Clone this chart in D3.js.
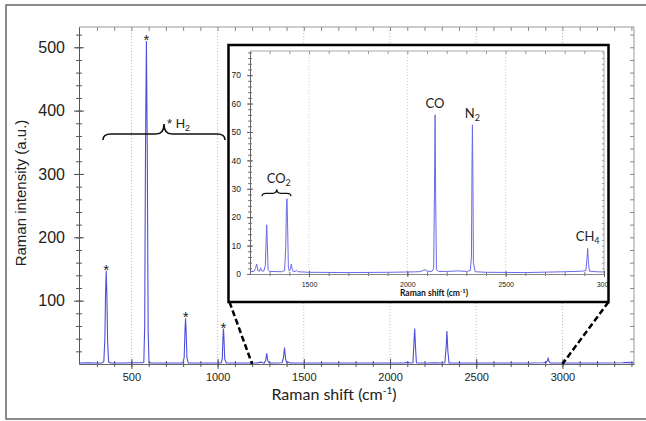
<!DOCTYPE html>
<html>
<meta charset="utf-8">
<head>
  <title>Raman spectrum</title>
  <style>
    body { margin: 0; background: #fff; }
    svg { display: block; }
    .tick text { font-family: "Liberation Sans", Arial, sans-serif; fill: #222; }
    .lato { font-family: Lato, "Open Sans", sans-serif; }
  </style>
</head>
<body>
<script src="https://cdn.jsdelivr.net/npm/d3@7"></script>
<script>

// main spectrum (shift in cm-1, intensity a.u.)
var mainShift = [196, 250, 300, 330, 340, 346, 350, 354, 358, 362, 368, 380, 450, 520, 565, 572, 577, 582, 587, 592, 597, 602, 612,
  700, 780, 798, 806, 811, 814, 817, 822, 830, 900, 1000, 1020, 1027, 1031, 1034, 1037, 1041, 1050, 1150, 1230, 1250, 1262,
  1270, 1279, 1285, 1291, 1300, 1340, 1374, 1382, 1388, 1394, 1402, 1410, 1420, 1500, 1800, 2080, 2100, 2120, 2133, 2138,
  2143, 2148, 2153, 2170, 2220, 2260, 2300, 2318, 2325, 2330, 2335, 2342, 2400, 2600, 2800, 2890, 2905, 2912, 2917, 2922,
  2930, 3000, 3200, 3350, 3385, 3415];
var mainIntensity = [1.5, 2, 1.5, 1.5, 4, 40, 110, 147, 105, 35, 3, 1.5, 1.5, 2, 2, 3, 60, 350, 510, 340, 55, 3, 1.5,
  1.5, 1.5, 1.5, 10, 55, 72, 55, 10, 1.5, 1.5, 1.5, 1.5, 8, 42, 56, 40, 8, 1.5, 1.5, 1.5, 3, 2,
  1.5, 6, 17, 5, 1.5, 1.5, 2, 10, 26, 8, 2, 3, 1.5, 1.5, 1.5, 1.5, 2.5, 1.5, 2, 30,
  56, 25, 2, 1.5, 1.5, 2, 1.5, 2, 25, 52, 22, 1.5, 1.5, 1.5, 1.5, 2, 2.5, 5, 9, 4,
  1.5, 1.5, 1.5, 2, 2.5, 1.5];

// inset spectrum, 1200 - 3000 cm-1
var insetShift = [1200, 1220, 1228, 1234, 1240, 1248, 1254, 1258, 1270, 1278, 1282, 1285, 1288, 1292, 1300, 1360, 1376, 1382,
  1385, 1388, 1391, 1395, 1400, 1406, 1410, 1415, 1420, 1430, 1436, 1442, 1500, 1700, 1900, 2000, 2060, 2080, 2090, 2100,
  2125, 2134, 2138, 2141, 2144, 2148, 2160, 2200, 2260, 2300, 2320, 2326, 2329, 2331, 2333, 2336, 2345, 2400, 2600, 2800,
  2890, 2908, 2913, 2917, 2921, 2926, 2960, 3000];
var insetIntensity = [0.8, 0.9, 2, 3.5, 1.2, 1, 2.2, 1.2, 1, 3, 12, 17.3, 11, 1.5, 0.9, 0.8, 1.2, 10,
  23, 26.5, 18, 2.5, 1, 2, 3.5, 1.5, 0.8, 0.9, 1.3, 0.8, 0.6, 0.5, 0.6, 0.7, 0.8, 1.2, 1.6, 1.0,
  0.9, 2, 30, 56, 28, 1.5, 0.9, 0.9, 1.1, 0.9, 1.2, 6, 40, 52.5, 38, 4, 0.8, 0.6, 0.5, 0.8,
  1.0, 1.2, 5, 9, 4, 1, 0.8, 0.7];

var mainXTicks = [500, 1000, 1500, 2000, 2500, 3000];
var mainYTicks = [100, 200, 300, 400, 500];
var insetXTicks = [1500, 2000, 2500, 3000];
var insetYTicks = [0, 10, 20, 30, 40, 50, 60, 70];

// H2 lines marked with a star
var h2Shift = [354, 587, 814, 1034];
var h2Height = [147, 510, 72, 56];

// inset peak labels
var peakName = ["CO", "N", "CH"];
var peakSub = ["", "2", "4"];
var peakShift = [2141, 2331, 2917];
var peakHeight = [56, 52.5, 9];

var width = 646, height = 421;
var mainBox = {left: 79, right: 634, top: 27, bottom: 364};
var insetFrame = {left: 228.5, right: 608.5, top: 45, bottom: 302};
var insetBox = {left: 250, right: 604, top: 51, bottom: 274};

var blue = "#4f4fdc";
var fmt = d3.format("d");

var svg = d3.select("body").append("svg")
    .attr("width", width)
    .attr("height", height);

svg.append("rect")
    .attr("x", 6).attr("y", 5)
    .attr("width", 660).attr("height", 414)
    .attr("fill", "#fff")
    .attr("stroke", "#666")
    .attr("stroke-width", 1.5);

var x = d3.scaleLinear().domain([196, 3415]).range([mainBox.left, mainBox.right]);
var y = d3.scaleLinear().domain([0, 532]).range([mainBox.bottom, mainBox.top]);

// dotted grid
svg.append("g").selectAll("line")
    .data(mainXTicks)
    .enter().append("line")
    .attr("x1", function(d) { return x(d); })
    .attr("x2", function(d) { return x(d); })
    .attr("y1", mainBox.top)
    .attr("y2", mainBox.bottom)
    .attr("stroke", "#aaa")
    .attr("stroke-width", 0.8)
    .attr("stroke-dasharray", "1,2");

// helper: crossing ticks
function crossTicks(g, dir, size) {
  g.selectAll(".tick line").each(function() {
    var l = d3.select(this);
    if (dir == "v") l.attr("y1", -size).attr("y2", size);
    else l.attr("x1", size).attr("x2", -size);
  });
}

function range(a, b, step) {
  return d3.range(a, b + step / 2, step);
}

// main frame lines
svg.append("line").attr("x1", mainBox.left).attr("x2", mainBox.right)
    .attr("y1", mainBox.top).attr("y2", mainBox.top).attr("stroke", "#999");
svg.append("line").attr("x1", mainBox.right).attr("x2", mainBox.right)
    .attr("y1", mainBox.top).attr("y2", mainBox.bottom).attr("stroke", "#999");

// top and right inward ticks
svg.append("g")
    .attr("transform", "translate(0," + mainBox.top + ")")
    .call(d3.axisTop(x).tickValues(range(300, 3400, 100)).tickSize(-4).tickFormat(""))
    .call(function(g) { g.select(".domain").remove(); g.selectAll("line").attr("stroke", "#888"); });
svg.append("g")
    .attr("transform", "translate(" + mainBox.right + ",0)")
    .call(d3.axisRight(y).tickValues(range(20, 520, 20)).tickSize(-4).tickFormat(""))
    .call(function(g) { g.select(".domain").remove(); g.selectAll("line").attr("stroke", "#888"); });

// left axis
svg.append("g")
    .attr("transform", "translate(" + mainBox.left + ",0)")
    .call(d3.axisLeft(y).tickValues(range(20, 520, 20)).tickSize(3).tickSizeOuter(0).tickFormat(""))
    .call(function(g) { crossTicks(g, "h", 3); g.select(".domain").remove(); g.selectAll("line").attr("stroke", "#555"); });
svg.append("g")
    .attr("transform", "translate(" + mainBox.left + ",0)")
    .call(d3.axisLeft(y).tickValues(mainYTicks).tickSize(5).tickSizeOuter(0).tickPadding(9).tickFormat(fmt))
    .call(function(g) {
      crossTicks(g, "h", 5);
      g.select(".domain").attr("stroke", "#555");
      g.selectAll("line").attr("stroke", "#555");
      g.selectAll("text").style("font-size", "16px");
    });

// bottom axis
svg.append("g")
    .attr("transform", "translate(0," + mainBox.bottom + ")")
    .call(d3.axisBottom(x).tickValues(range(300, 3400, 100)).tickSize(3).tickSizeOuter(0).tickFormat(""))
    .call(function(g) { crossTicks(g, "v", 3); g.select(".domain").remove(); g.selectAll("line").attr("stroke", "#555"); });
svg.append("g")
    .attr("transform", "translate(0," + mainBox.bottom + ")")
    .call(d3.axisBottom(x).tickValues(mainXTicks).tickSize(5).tickSizeOuter(0).tickPadding(4).tickFormat(fmt))
    .call(function(g) {
      crossTicks(g, "v", 5);
      g.select(".domain").attr("stroke", "#666");
      g.selectAll("line").attr("stroke", "#555");
      g.selectAll("text").style("font-size", "11px");
    });

// main spectrum
var mainLine = d3.line()
    .x(function(d) { return x(d[0]); })
    .y(function(d) { return y(d[1]); });

svg.append("path")
    .datum(d3.zip(mainShift, mainIntensity))
    .attr("d", mainLine)
    .attr("fill", "none")
    .attr("stroke", blue)
    .attr("stroke-width", 1.1);

// stars over H2 lines
svg.append("g").selectAll("text")
    .data(d3.zip(h2Shift, h2Height))
    .enter().append("text")
    .attr("x", function(d) { return x(d[0]); })
    .attr("y", function(d) { return y(d[1]) + 4; })
    .attr("text-anchor", "middle")
    .style("font-family", "Liberation Sans, Arial, sans-serif")
    .style("font-size", "15px")
    .style("fill", "#222")
    .text("*");

// curly brace, opening downwards
function brace(x1, x2, xm, yy, endDrop, cusp, r) {
  return "M" + x1 + "," + (yy + endDrop) +
    " Q" + x1 + "," + yy + " " + (x1 + r) + "," + yy +
    " L" + (xm - r) + "," + yy +
    " Q" + xm + "," + yy + " " + xm + "," + (yy - cusp) +
    " Q" + xm + "," + yy + " " + (xm + r) + "," + yy +
    " L" + (x2 - r) + "," + yy +
    " Q" + x2 + "," + yy + " " + x2 + "," + (yy + endDrop);
}

svg.append("path")
    .attr("d", brace(x(335), x(1043), x(689), y(363), 6, 10, 8))
    .attr("fill", "none")
    .attr("stroke", "#111")
    .attr("stroke-width", 1.6);

var h2 = svg.append("text")
    .attr("x", x(689) + 3)
    .attr("y", y(363) - 6)
    .style("font-family", "Liberation Sans, Arial, sans-serif")
    .style("font-size", "13px")
    .style("fill", "#222");
h2.append("tspan").text("* H");
h2.append("tspan").attr("dy", 3).style("font-size", "9px").text("2");

// axis titles
svg.append("text")
    .attr("transform", "translate(26," + 193 + ") rotate(-90)")
    .attr("text-anchor", "middle")
    .style("font-family", "Liberation Sans, Arial, sans-serif")
    .style("font-size", "15px")
    .style("fill", "#222")
    .text("Raman intensity (a.u.)");

var xt = svg.append("text")
    .attr("class", "lato")
    .attr("x", 334)
    .attr("y", 400)
    .attr("text-anchor", "middle")
    .style("font-size", "16px")
    .style("fill", "#222");
xt.append("tspan").text("Raman shift (cm");
xt.append("tspan").attr("dy", -6).style("font-size", "10px").text("-1");
xt.append("tspan").attr("dy", 6).text(")");

// ---------- inset ----------
var xi = d3.scaleLinear().domain([1200, 3000]).range([insetBox.left, insetBox.right]);
var yi = d3.scaleLinear().domain([0, 78.5]).range([insetBox.bottom, insetBox.top]);

svg.append("defs").append("clipPath").attr("id", "insetClip")
    .append("rect")
    .attr("x", insetFrame.left).attr("y", insetFrame.top)
    .attr("width", insetFrame.right - insetFrame.left)
    .attr("height", insetFrame.bottom - insetFrame.top);

svg.append("rect")
    .attr("x", insetFrame.left).attr("y", insetFrame.top)
    .attr("width", insetFrame.right - insetFrame.left)
    .attr("height", insetFrame.bottom - insetFrame.top)
    .attr("fill", "#fff");

var inset = svg.append("g").attr("clip-path", "url(#insetClip)");

inset.append("g").selectAll("line")
    .data([1500, 2000, 2500])
    .enter().append("line")
    .attr("x1", function(d) { return xi(d); })
    .attr("x2", function(d) { return xi(d); })
    .attr("y1", insetBox.top)
    .attr("y2", insetBox.bottom)
    .attr("stroke", "#bbb")
    .attr("stroke-width", 0.8)
    .attr("stroke-dasharray", "1,2");

inset.append("line").attr("x1", insetBox.left).attr("x2", insetBox.right)
    .attr("y1", insetBox.top).attr("y2", insetBox.top).attr("stroke", "#aaa");
inset.append("line").attr("x1", insetBox.right).attr("x2", insetBox.right)
    .attr("y1", insetBox.top).attr("y2", insetBox.bottom).attr("stroke", "#aaa");

inset.append("g")
    .attr("transform", "translate(0," + insetBox.top + ")")
    .call(d3.axisTop(xi).tickValues(range(1300, 2900, 100)).tickSize(-3).tickFormat(""))
    .call(function(g) { g.select(".domain").remove(); g.selectAll("line").attr("stroke", "#999"); });
inset.append("g")
    .attr("transform", "translate(" + insetBox.right + ",0)")
    .call(d3.axisRight(yi).tickValues(range(2, 78, 2)).tickSize(-2).tickFormat(""))
    .call(function(g) { g.select(".domain").remove(); g.selectAll("line").attr("stroke", "#999"); });

inset.append("g")
    .attr("transform", "translate(" + insetBox.left + ",0)")
    .call(d3.axisLeft(yi).tickValues(range(2, 78, 2)).tickSize(2).tickFormat(""))
    .call(function(g) { crossTicks(g, "h", 2); g.select(".domain").remove(); g.selectAll("line").attr("stroke", "#777"); });
inset.append("g")
    .attr("transform", "translate(" + insetBox.left + ",0)")
    .call(d3.axisLeft(yi).tickValues(insetYTicks).tickSize(3).tickSizeOuter(0).tickPadding(6).tickFormat(fmt))
    .call(function(g) {
      crossTicks(g, "h", 3);
      g.select(".domain").attr("stroke", "#666");
      g.selectAll("line").attr("stroke", "#666");
      g.selectAll("text").style("font-size", "8.5px");
    });

inset.append("g")
    .attr("transform", "translate(0," + insetBox.bottom + ")")
    .call(d3.axisBottom(xi).tickValues(range(1300, 2900, 100)).tickSize(2).tickFormat(""))
    .call(function(g) { crossTicks(g, "v", 2); g.select(".domain").remove(); g.selectAll("line").attr("stroke", "#777"); });
inset.append("g")
    .attr("transform", "translate(0," + insetBox.bottom + ")")
    .call(d3.axisBottom(xi).tickValues(insetXTicks).tickSize(3).tickSizeOuter(0).tickPadding(5).tickFormat(fmt))
    .call(function(g) {
      crossTicks(g, "v", 3);
      g.select(".domain").attr("stroke", "#888");
      g.selectAll("line").attr("stroke", "#666");
      g.selectAll("text").style("font-size", "7px");
    });

var insetLine = d3.line()
    .x(function(d) { return xi(d[0]); })
    .y(function(d) { return yi(d[1]); });

inset.append("path")
    .datum(d3.zip(insetShift, insetIntensity))
    .attr("d", insetLine)
    .attr("fill", "none")
    .attr("stroke", "#6a6ae6")
    .attr("stroke-width", 1);

// peak labels
var lab = inset.append("g").selectAll("text")
    .data(d3.range(peakName.length))
    .enter().append("text")
    .attr("class", "lato")
    .attr("x", function(i) { return xi(peakShift[i]); })
    .attr("y", function(i) { return yi(peakHeight[i]) - 7; })
    .attr("text-anchor", "middle")
    .style("font-size", "13px")
    .style("fill", "#222");
lab.append("tspan").text(function(i) { return peakName[i]; });
lab.append("tspan").attr("dy", 3).style("font-size", "9px").text(function(i) { return peakSub[i]; });

// CO2 brace and label
inset.append("path")
    .attr("d", brace(xi(1261), xi(1408), xi(1336), yi(28.4), 3, 4, 4))
    .attr("fill", "none")
    .attr("stroke", "#111")
    .attr("stroke-width", 1.3);
var co2 = inset.append("text")
    .attr("class", "lato")
    .attr("x", xi(1336) + 2)
    .attr("y", yi(28.4) - 10.5)
    .attr("text-anchor", "middle")
    .style("font-size", "13px")
    .style("fill", "#222");
co2.append("tspan").text("CO");
co2.append("tspan").attr("dy", 3).style("font-size", "9px").text("2");

var it = inset.append("text")
    .attr("class", "lato")
    .attr("x", 434)
    .attr("y", 296)
    .attr("text-anchor", "middle")
    .style("font-size", "8.5px")
    .style("font-weight", "bold")
    .style("fill", "#111");
it.append("tspan").text("Raman shift (cm");
it.append("tspan").attr("dy", -3).style("font-size", "6px").text("-1");
it.append("tspan").attr("dy", 3).text(")");

svg.append("rect")
    .attr("x", insetFrame.left).attr("y", insetFrame.top)
    .attr("width", insetFrame.right - insetFrame.left)
    .attr("height", insetFrame.bottom - insetFrame.top)
    .attr("fill", "none")
    .attr("stroke", "#000")
    .attr("stroke-width", 2.5);

// zoom connectors
svg.append("g").selectAll("line")
    .data([[insetFrame.left + 1, 1200], [insetFrame.right, 3000]])
    .enter().append("line")
    .attr("x1", function(d) { return d[0]; })
    .attr("y1", insetFrame.bottom)
    .attr("x2", function(d) { return x(d[1]); })
    .attr("y2", y(0))
    .attr("stroke", "#000")
    .attr("stroke-width", 2.5)
    .attr("stroke-dasharray", "6,3");

</script>
</body>
</html>
